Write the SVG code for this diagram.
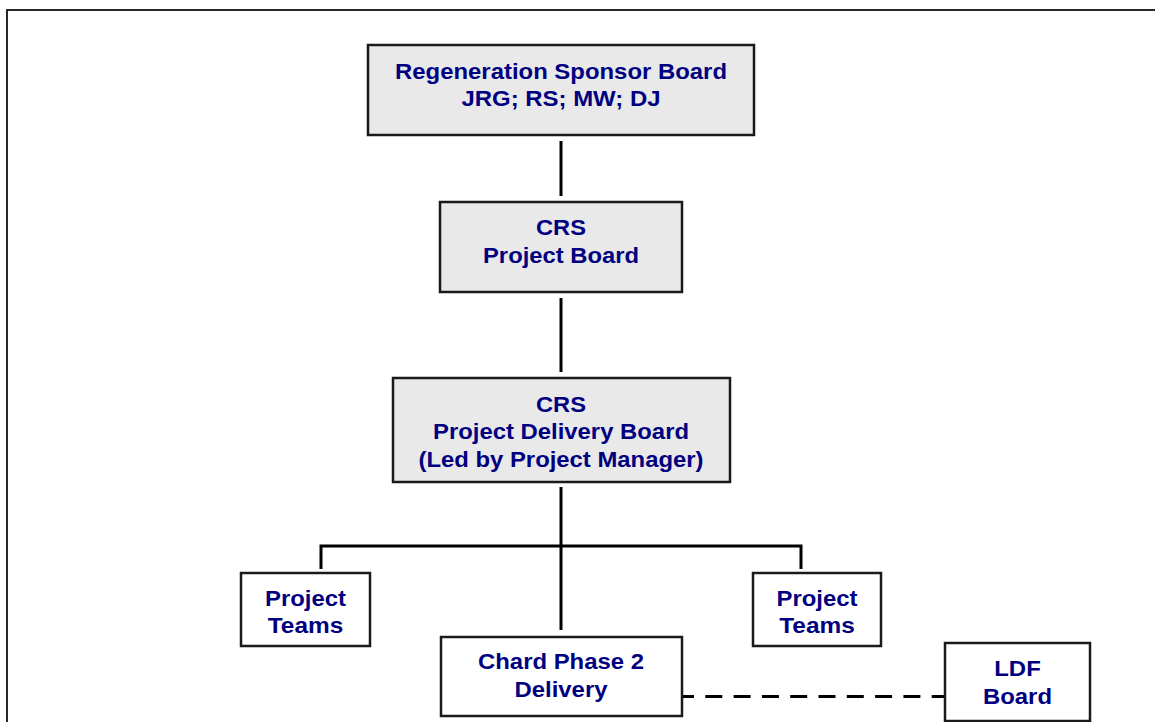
<svg xmlns="http://www.w3.org/2000/svg" width="1155" height="722" viewBox="0 0 1155 722">
<style>
.frame{fill:none;stroke:#111;stroke-width:1.8}
.box{stroke:#1a1a1a;stroke-width:2.5}
.grey{fill:#e9e9e9}
.white{fill:#fff}
.conn{fill:none;stroke:#000;stroke-width:3}
.dash{stroke-dasharray:17 11.3;stroke-dashoffset:6}
text{font-family:"Liberation Sans",Arial,sans-serif;font-weight:bold;font-size:22px;fill:#000080;text-anchor:middle}
</style>
<rect width="1155" height="722" fill="#fff"/>
<rect class="frame" x="7" y="10" width="1170" height="740"/>
<g id="connectors">
<line class="conn" x1="561" y1="141" x2="561" y2="196"/>
<line class="conn" x1="561" y1="298" x2="561" y2="372"/>
<line class="conn" x1="561" y1="487" x2="561" y2="630"/>
<polyline class="conn" points="321,569 321,546 801,546 801,569"/>
<line class="conn dash" x1="683" y1="696.5" x2="945" y2="696.5"/>
</g>
<g id="regeneration-sponsor-board">
<rect class="box grey" x="368" y="45" width="386" height="90"/>
<text x="561" y="79" textLength="332" lengthAdjust="spacingAndGlyphs">Regeneration Sponsor Board</text>
<text x="561" y="105.5" textLength="199" lengthAdjust="spacingAndGlyphs">JRG; RS; MW; DJ</text>
</g>
<g id="crs-project-board">
<rect class="box grey" x="440" y="202" width="242" height="90"/>
<text x="561" y="235" textLength="50" lengthAdjust="spacingAndGlyphs">CRS</text>
<text x="561" y="263" textLength="156" lengthAdjust="spacingAndGlyphs">Project Board</text>
</g>
<g id="crs-project-delivery-board">
<rect class="box grey" x="393" y="378" width="337" height="104"/>
<text x="561" y="411.5" textLength="50" lengthAdjust="spacingAndGlyphs">CRS</text>
<text x="561" y="439" textLength="256" lengthAdjust="spacingAndGlyphs">Project Delivery Board</text>
<text x="561" y="466.5" textLength="285" lengthAdjust="spacingAndGlyphs">(Led by Project Manager)</text>
</g>
<g id="project-teams-left">
<rect class="box white" x="241" y="573" width="129" height="73"/>
<text x="305.5" y="606" textLength="81" lengthAdjust="spacingAndGlyphs">Project</text>
<text x="305.5" y="633" textLength="75.5" lengthAdjust="spacingAndGlyphs">Teams</text>
</g>
<g id="project-teams-right">
<rect class="box white" x="753" y="573" width="128" height="73"/>
<text x="817" y="606" textLength="81" lengthAdjust="spacingAndGlyphs">Project</text>
<text x="817" y="633" textLength="75.5" lengthAdjust="spacingAndGlyphs">Teams</text>
</g>
<g id="chard-phase-2-delivery">
<rect class="box white" x="441" y="637" width="241" height="79"/>
<text x="561" y="669" textLength="166" lengthAdjust="spacingAndGlyphs">Chard Phase 2</text>
<text x="561" y="696.5" textLength="93" lengthAdjust="spacingAndGlyphs">Delivery</text>
</g>
<g id="ldf-board">
<rect class="box white" x="945" y="643" width="145" height="78"/>
<text x="1017.5" y="676" textLength="46.5" lengthAdjust="spacingAndGlyphs">LDF</text>
<text x="1017.5" y="704" textLength="69" lengthAdjust="spacingAndGlyphs">Board</text>
</g>
</svg>
